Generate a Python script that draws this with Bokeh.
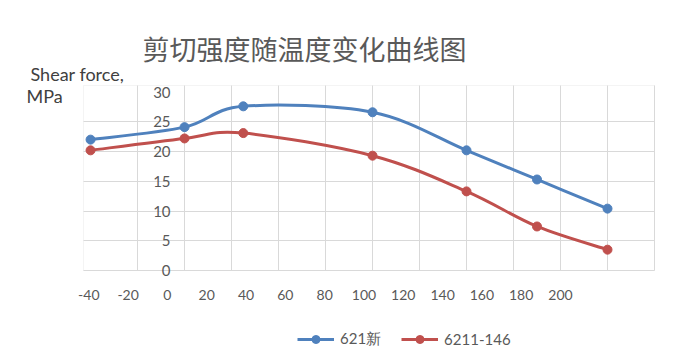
from bokeh.plotting import figure
from bokeh.models import (Range1d, FixedTicker, Grid, Label, LabelSet, BoxAnnotation,
                          ColumnDataSource, Legend, LegendItem)
from bokeh.core.properties import value
from bokeh.embed import file_html
from bokeh.resources import INLINE

# ---------------- data ----------------
title_text = "剪切强度随温度变化曲线图"
y_title_1 = "Shear force,"
y_title_2 = "MPa"
temps = [-40, 0, 25, 80, 120, 150, 180]
s1_name = "621新"
s1 = [22.0, 24.1, 27.6, 26.6, 20.2, 15.3, 10.4]
s2_name = "6211-146"
s2 = [20.2, 22.2, 23.1, 19.3, 13.3, 7.4, 3.5]
x_ticks = [-40, -20, 0, 20, 40, 60, 80, 100, 120, 140, 160, 180, 200]
x_grid = [-20, 0, 20, 40, 60, 80, 100, 120, 140, 160, 180, 200]
y_ticks = [0, 5, 10, 15, 20, 25, 30]
y_grid = [0, 5, 10, 15, 20, 25]
x_min, x_max = -43, 200      # plot-area limits
y_min, y_max = 0, 31.1

BLUE = "#4f81bd"
RED = "#c0504d"
GRID = "#d9d9d9"
TXT = "#595959"

W, H = 695, 356
L, R, T, B = 83, 654, 85, 270          # plot area in canvas pixels
xs = (R - L) / (x_max - x_min)
ys_ = (B - T) / (y_max - y_min)
x_range = Range1d(x_min - L / xs, x_max + (W - R) / xs)
y_range = Range1d(y_min - (H - B) / ys_, y_max + T / ys_)

p = figure(width=W, height=H, x_range=x_range, y_range=y_range,
           x_axis_type=None, y_axis_type=None,
           toolbar_location=None, output_backend="svg",
           min_border=0, outline_line_color=None,
           background_fill_color="white", border_fill_color="white")
p.title = None

# label scale of the bottom tick texts (spread evenly under the plot)
lab_px0, lab_px1 = 88.3, 560.0
lsc = (lab_px1 - lab_px0) / (x_ticks[-1] - x_ticks[0])
p.extra_x_ranges = {"lab": Range1d(x_ticks[0] - lab_px0 / lsc,
                                   x_ticks[-1] + (W - lab_px1) / lsc)}

try:
    gx = Grid(dimension=0, ticker=FixedTicker(ticks=x_grid), cross_bounds=(y_min, y_max),
              grid_line_color=GRID, grid_line_width=1)
    gy = Grid(dimension=1, ticker=FixedTicker(ticks=y_grid), cross_bounds=(x_min, x_max),
              grid_line_color=GRID, grid_line_width=1)
    p.add_layout(gx)
    p.add_layout(gy)
except AttributeError:
    p.segment(x0=x_grid, y0=[y_min] * len(x_grid), x1=x_grid, y1=[y_max] * len(x_grid),
              line_color=GRID, line_width=1)
    p.segment(x0=[x_min] * len(y_grid), y0=y_grid, x1=[x_max] * len(y_grid), y1=y_grid,
              line_color=GRID, line_width=1)

p.add_layout(BoxAnnotation(left=x_min, right=x_max, bottom=y_min, top=y_max,
                           fill_alpha=0, line_color=GRID, line_width=1, level="underlay"))

# y tick labels at x = 0 crossing
ysrc = ColumnDataSource(dict(x=[0] * len(y_ticks), y=y_ticks,
                             t=[str(v) for v in y_ticks]))
p.add_layout(LabelSet(x="x", y="y", text="t", source=ysrc, x_offset=-14,
                      text_align="right", text_baseline="middle",
                      text_font=value("Lato"), text_font_size=value("15px"),
                      text_color=TXT))
# x tick labels
xsrc = ColumnDataSource(dict(x=x_ticks, y=[y_min] * len(x_ticks),
                             t=[str(v) for v in x_ticks]))
p.add_layout(LabelSet(x="x", y="y", text="t", source=xsrc, x_range_name="lab",
                      y_offset=-24, text_align="center", text_baseline="middle",
                      text_font=value("Lato"), text_font_size=value("14px"),
                      text_color=TXT))


def bez(xv, yv):
    n = len(xv)
    P = list(zip(xv, yv))
    out = {k: [] for k in ("x0", "y0", "x1", "y1", "cx0", "cy0", "cx1", "cy1")}
    for i in range(n - 1):
        pm = P[i - 1] if i > 0 else P[i]
        a = P[i]
        b = P[i + 1]
        pp = P[i + 2] if i + 2 < n else P[i + 1]
        out["x0"].append(a[0]); out["y0"].append(a[1])
        out["x1"].append(b[0]); out["y1"].append(b[1])
        out["cx0"].append(a[0] + (b[0] - pm[0]) / 6)
        out["cy0"].append(a[1] + (b[1] - pm[1]) / 6)
        out["cx1"].append(b[0] - (pp[0] - a[0]) / 6)
        out["cy1"].append(b[1] - (pp[1] - a[1]) / 6)
    return ColumnDataSource(out)


items = []
for name, yv, col in ((s1_name, s1, BLUE), (s2_name, s2, RED)):
    br = p.bezier(x0="x0", y0="y0", x1="x1", y1="y1", cx0="cx0", cy0="cy0",
                  cx1="cx1", cy1="cy1", source=bez(temps, yv),
                  line_color=col, line_width=3)
    sr = p.scatter(temps, yv, marker="circle", size=9, fill_color=col,
                   line_color=col)
    items.append(LegendItem(label=name, renderers=[br, sr]))

leg = Legend(items=items, location=(297, 7), orientation="horizontal",
             border_line_color=None, background_fill_alpha=0, padding=0,
             margin=0, spacing=20, glyph_width=37, glyph_height=20,
             label_standoff=6, label_text_font="Lato",
             label_text_font_size="15px", label_text_color=TXT,
             label_text_baseline="middle")
p.add_layout(leg, "center")

p.add_layout(Label(x=304, y=H - 48, x_units="screen", y_units="screen",
                   text=title_text, text_align="center", text_baseline="middle",
                   text_font="Noto Sans CJK SC", text_font_size="27px",
                   text_color=TXT))
p.add_layout(Label(x=30, y=H - 73, x_units="screen", y_units="screen",
                   text=y_title_1, text_align="left", text_baseline="middle",
                   text_font="Lato", text_font_size="18px", text_color="#404040"))
p.add_layout(Label(x=26, y=H - 95, x_units="screen", y_units="screen",
                   text=y_title_2, text_align="left", text_baseline="middle",
                   text_font="Lato", text_font_size="18px", text_color="#404040"))

open("out.html", "w").write(file_html(p, INLINE))
